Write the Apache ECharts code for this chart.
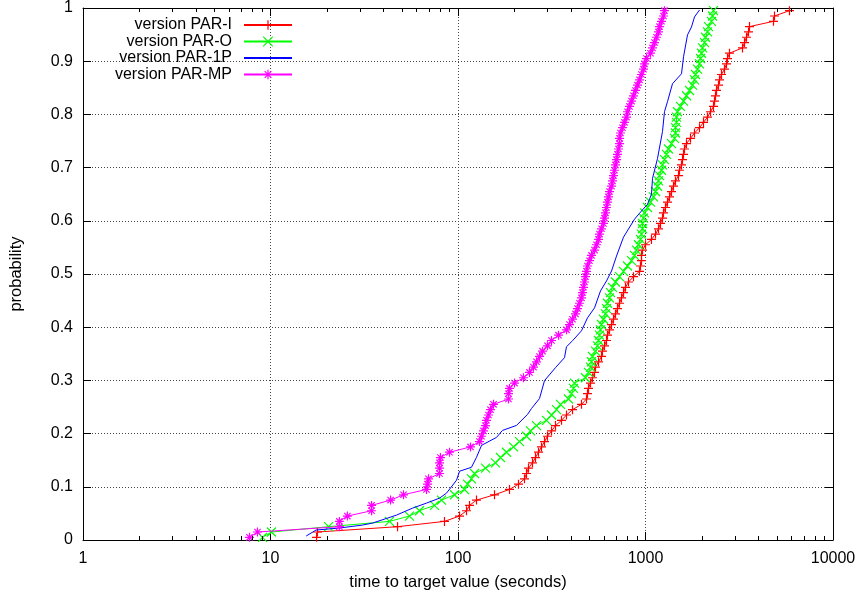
<!DOCTYPE html>
<html>
<head>
<meta charset="utf-8">
<script src="https://cdn.jsdelivr.net/npm/echarts@6/dist/echarts.min.js"></script>
<style>
html,body{margin:0;padding:0;background:#fff;}
#chart{width:862px;height:596px;}
</style>
</head>
<body>
<div id="chart"></div>
<script>
// ---------- data ----------
const seriesNames = ['version PAR-I', 'version PAR-O', 'version PAR-1P', 'version PAR-MP'];
const seriesColors = ['#ff0000', '#00ff00', '#0000ff', '#ff00ff'];

// cumulative probability of the i-th sorted run (shared by the marker series)
const probability = [
  0.005,0.015,0.025,0.035,0.045,0.055,0.065,0.075,0.085,0.095,
  0.105,0.115,0.125,0.135,0.145,0.155,0.165,0.175,0.185,0.195,
  0.205,0.215,0.225,0.235,0.245,0.255,0.265,0.275,0.285,0.295,
  0.305,0.315,0.325,0.335,0.345,0.355,0.365,0.375,0.385,0.395,
  0.405,0.415,0.425,0.435,0.445,0.455,0.465,0.475,0.485,0.495,
  0.505,0.515,0.525,0.535,0.545,0.555,0.565,0.575,0.585,0.595,
  0.605,0.615,0.625,0.635,0.645,0.655,0.665,0.675,0.685,0.695,
  0.705,0.715,0.725,0.735,0.745,0.755,0.765,0.775,0.785,0.795,
  0.805,0.815,0.825,0.835,0.845,0.855,0.865,0.875,0.885,0.895,
  0.905,0.915,0.925,0.935,0.945,0.955,0.965,0.975,0.985,0.995
];

// times to target (seconds)
const timesPARI = [
  17.6,17.8,47.6,84.7,101.9,111.0,115.2,125.5,156.6,188.2,
  210.2,226.3,231.9,237.7,249.6,259.0,268.7,278.8,289.3,300.1,
  315.4,331.1,356.5,379.0,408.1,455.7,484.5,490.5,496.6,508.9,
  521.5,534.6,541.2,561.5,582.5,589.7,604.4,619.4,627.0,642.7,
  658.7,675.0,691.8,709.0,726.7,744.7,763.3,782.3,811.6,863.0,
  929.0,940.5,952.1,952.1,963.9,1000,1076,1131,1173,1202,
  1232,1247,1278,1310,1343,1376,1410,1445,1500,1518,
  1556,1575,1595,1614,1654,1738,1825,1941,2039,2141,
  2222,2305,2334,2362,2392,2451,2481,2543,2638,2704,
  2737,2805,3291,3373,3457,3543,3587,4816,4876,5861
];

const timesPARO = [
  9.06,10.12,20.4,43.1,55.1,62.3,74.9,81.7,95.8,108.3,
  112.4,118.0,122.5,140.2,158.5,168.5,181.4,197.7,212.8,231.9,
  243.6,262.2,296.5,315.4,335.2,352.1,388.5,403.1,413.0,418.1,
  478.6,496.6,508.9,515.2,521.5,541.2,554.6,561.5,568.4,575.4,
  582.5,597.0,611.8,619.4,627.0,642.7,650.6,666.8,691.8,726.7,
  763.3,801.7,842.1,873.7,895.4,917.7,940.5,952.1,963.9,963.9,
  975.7,987.8,1025,1063,1103,1131,1159,1173,1188,1217,
  1232,1263,1294,1326,1376,1428,1445,1445,1463,1463,
  1481,1537,1595,1654,1717,1781,1825,1848,1894,1941,
  1965,1989,2014,2064,2089,2141,2168,2249,2277,2305
];

const timesPARMP = [
  7.73,8.52,23.3,23.3,25.7,34.6,34.6,43.7,51.2,67.9,
  68.8,69.6,79.7,79.7,79.7,80.6,90.1,116.6,130.2,133.5,
  136.8,140.2,141.9,145.4,149.1,154.7,185.9,185.9,188.2,200.1,
  223.5,240.6,252.7,262.2,272.1,282.3,300.1,315.4,343.6,379.0,
  393.3,408.1,423.3,433.8,444.6,455.7,461.3,467.0,472.8,478.6,
  484.5,490.5,502.7,515.2,534.6,547.9,561.5,568.4,582.5,597.0,
  604.4,611.8,619.4,627.0,634.8,642.7,658.7,666.8,675.0,683.4,
  691.8,700.4,709.0,717.8,726.7,726.7,735.6,753.9,772.7,791.9,
  801.7,821.7,842.1,863.0,884.5,906.5,929.0,952.1,975.7,987.8,
  1012,1063,1090,1117,1145,1173,1188,1217,1247,1263
];

// PAR-1P is drawn as a plain line: its own times and probabilities
const timesPAR1P = [
  15.5,17.5,23.3,31.0,35.0,47.0,57.2,67.9,79.7,86.8,
  98.2,101.9,118.0,125.5,133.5,160.5,172.7,205.1,234.8,246.6,
  272.1,289.3,331.1,369.8,379.0,408.1,455.7,490.5,534.6,575.4,
  619.4,658.7,700.4,763.3,873.7,929.0,1025,1076,1090,1159,
  1232,1263,1310,1393,1556,1595,1675,1759,1825,1941
];
const probPAR1P = [
  0.0075,0.0187,0.0225,0.0281,0.0318,0.0468,0.0599,0.0693,0.0787,0.0880,
  0.1124,0.1292,0.1367,0.1554,0.1779,0.1929,0.2060,0.2154,0.2360,0.2472,
  0.2659,0.2996,0.3240,0.3427,0.3633,0.3745,0.3933,0.4176,0.4363,0.4682,
  0.4869,0.5056,0.5337,0.5693,0.6030,0.6142,0.6311,0.6498,0.6798,0.7172,
  0.7678,0.8052,0.8240,0.8577,0.8764,0.9082,0.9494,0.9644,0.9831,0.9963
];

const xTickLabels = ['1', '10', '100', '1000', '10000'];
const minorTicks = [2,3,4,5,6,7,8,9, 20,30,40,50,60,70,80,90,
                    200,300,400,500,600,700,800,900, 2000,3000,4000,5000,6000,7000,8000,9000];

// ---------- chart ----------
const FONT = '"Liberation Sans", Arial, Helvetica, sans-serif';
const SYM_PLUS = 'path://M0 5L10 5M5 0L5 10';
const SYM_CROSS = 'path://M0 0L10 10M0 10L10 0';
const SYM_STAR = 'path://M0 5L10 5M5 0L5 10M1.5 1.5L8.5 8.5M1.5 8.5L8.5 1.5';

const pairs = (xs, ys) => xs.map((x, i) => [x, ys[i]]);

function markerSeries(idx, times, symbol) {
  const c = seriesColors[idx];
  return {
    name: seriesNames[idx],
    type: 'line',
    data: pairs(times, probability),
    symbol: symbol,
    symbolSize: 9,
    showSymbol: true,
    showAllSymbol: true,
    lineStyle: { color: c, width: 1 },
    itemStyle: { color: c, borderColor: c, borderWidth: 1.2 },
    emphasis: { disabled: true },
    z: 3 + idx
  };
}

const axisCommonX = {
  type: 'log', logBase: 10, min: 1, max: 10000,
  axisLine: { show: true, onZero: false, lineStyle: { color: '#000', width: 1 } },
  axisTick: { show: true, inside: true, length: 8, lineStyle: { color: '#000', width: 1 } },
  minorTick: { show: false },
  minorSplitLine: { show: false }
};
const axisCommonY = {
  type: 'value', min: 0, max: 1, interval: 0.1,
  axisLine: { show: true, onZero: false, lineStyle: { color: '#000', width: 1 } },
  axisTick: { show: true, inside: true, length: 8, lineStyle: { color: '#000', width: 1 } }
};

const chart = echarts.init(document.getElementById('chart'), null, { renderer: 'canvas' });
chart.setOption({
  animation: false,
  backgroundColor: '#fff',
  textStyle: { fontFamily: FONT },
  grid: { left: 83, right: 29, top: 6, bottom: 56, containLabel: false },
  xAxis: [
    Object.assign({}, axisCommonX, {
      position: 'bottom',
      axisLabel: {
        color: '#000', fontSize: 16, fontFamily: FONT, margin: 11,
        formatter: v => xTickLabels[Math.round(Math.log10(v))]
      },
      splitLine: { show: true, lineStyle: { color: '#444', width: 1, type: [1, 2] } },
      name: 'time to target value (seconds)',
      nameLocation: 'middle', nameGap: 34,
      nameTextStyle: { color: '#000', fontSize: 16.5, fontFamily: FONT }
    }),
    Object.assign({}, axisCommonX, {
      position: 'top',
      axisLabel: { show: false },
      splitLine: { show: false }
    })
  ],
  yAxis: [
    Object.assign({}, axisCommonY, {
      position: 'left',
      axisLabel: { color: '#000', fontSize: 16, fontFamily: FONT, margin: 10 },
      splitLine: { show: true, lineStyle: { color: '#444', width: 1, type: [1, 2] } },
      name: 'probability',
      nameLocation: 'middle', nameGap: 58, nameRotate: 90,
      nameTextStyle: { color: '#000', fontSize: 16.5, fontFamily: FONT }
    }),
    Object.assign({}, axisCommonY, {
      position: 'right',
      axisLabel: { show: false },
      splitLine: { show: false }
    })
  ],
  legend: {
    data: [
      { name: seriesNames[0] },
      { name: seriesNames[1] },
      { name: seriesNames[2], itemStyle: { opacity: 0 } },
      { name: seriesNames[3] }
    ],
    orient: 'vertical', align: 'right',
    right: 569, top: 17, padding: 0, itemGap: 0.5,
    itemWidth: 48, itemHeight: 12,
    selectedMode: false,
    itemStyle: { borderWidth: 1.2 },
    textStyle: { color: '#000', fontSize: 16, fontFamily: FONT, padding: [0, 7, 0, 0] }
  },
  series: [
    markerSeries(0, timesPARI, SYM_PLUS),
    markerSeries(1, timesPARO, SYM_CROSS),
    {
      name: seriesNames[2],
      type: 'line',
      data: pairs(timesPAR1P, probPAR1P),
      symbol: 'none',
      showSymbol: false,
      lineStyle: { color: seriesColors[2], width: 1 },
      itemStyle: { color: seriesColors[2] },
      emphasis: { disabled: true },
      z: 5
    },
    markerSeries(3, timesPARMP, SYM_STAR),
    {
      name: 'minor ticks',
      type: 'custom',
      silent: true,
      clip: false,
      z: 10,
      data: minorTicks.map(v => [v, 0]),
      renderItem: function (params, api) {
        const p0 = api.coord([api.value(0), 0]);
        const p1 = api.coord([api.value(0), 1]);
        const x = Math.round(p0[0]) + 0.5;
        return {
          type: 'group',
          children: [
            { type: 'line', shape: { x1: x, y1: p0[1], x2: x, y2: p0[1] - 4 }, style: { stroke: '#000', lineWidth: 1 } },
            { type: 'line', shape: { x1: x, y1: p1[1], x2: x, y2: p1[1] + 4 }, style: { stroke: '#000', lineWidth: 1 } }
          ]
        };
      }
    }
  ]
});
</script>
</body>
</html>
